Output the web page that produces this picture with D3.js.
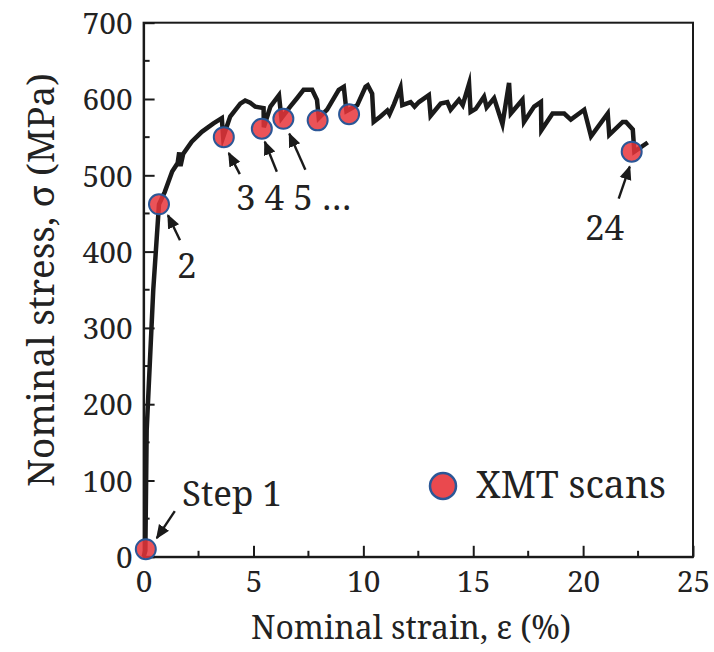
<!DOCTYPE html>
<html>
<head>
<meta charset="utf-8">
<script src="https://cdn.jsdelivr.net/npm/d3@7"></script>
<style>
  html, body { margin: 0; padding: 0; background: #fff; }
  svg { display: block; }
</style>
</head>
<body>
<svg id="chart" width="714" height="652"></svg>
<script>
// Tensile curve (nominal strain %, nominal stress MPa) with stress drops at each scan
const strain = [0.00, 0.08, 0.14, 0.44, 0.70, 0.96, 1.30, 1.55, 1.62, 1.68, 1.80, 2.19, 2.65, 3.18, 3.56, 3.62,
  3.94, 4.40, 4.62, 4.85, 5.08, 5.46, 5.47, 5.77, 6.16, 6.27, 6.67, 6.98, 7.28, 7.67, 7.89, 7.97,
  8.35, 8.88, 9.11, 9.23, 9.72, 10.10, 10.20, 10.40, 10.47, 10.78, 11.09, 11.19, 11.39, 11.69, 11.77,
  12.15, 12.33, 12.53, 12.98, 13.06, 13.52, 13.82, 13.97, 14.35, 14.52, 14.81, 14.88, 15.11, 15.49,
  15.61, 15.95, 16.33, 16.63, 16.71, 17.24, 17.31, 17.77, 18.08, 18.10, 18.61, 19.14, 19.44, 20.05,
  20.36, 21.12, 21.19, 21.80, 21.95, 22.26, 22.33, 22.94];
const stress = [0, 8, 166, 350, 462, 478, 505, 516, 530, 512, 528, 544, 557, 568, 575, 550,
  577, 594, 598, 595, 590, 588, 563, 590, 605, 575, 590, 601, 612, 612, 599, 575,
  586, 612, 616, 584, 592, 616, 618, 607, 570, 577, 585, 580, 593, 615, 592,
  596, 590, 596, 605, 578, 594, 596, 586, 599, 592, 620, 583, 587, 603,
  589, 601, 567, 621, 581, 599, 570, 590, 596, 559, 581, 581, 573, 586,
  551, 581, 553, 570, 570, 560, 531, 543];

// XMT scan steps
const scanStrain = [0.10, 0.70, 3.65, 5.38, 6.36, 7.92, 9.35, 22.21];
const scanStress = [10, 462, 550, 561, 574, 572, 580, 531];

const xTicks = [0, 5, 10, 15, 20, 25];
const yTicks = [0, 100, 200, 300, 400, 500, 600, 700];
const xMinorTicks = [2.5, 7.5, 12.5, 17.5, 22.5];
const yMinorTicks = [50, 150, 250, 350, 450, 550, 650];

const xTitle = "Nominal strain, \u03b5 (%)";
const yTitle = "Nominal stress, \u03c3 (MPa)";
const legendLabel = "XMT scans";

// Arrow callouts: which scan they point at (offsets in px from the marker)
const callouts = [
  { scan: 0, tip: [11, -11], tail: [29, -38] },
  { scan: 1, tip: [9, 11], tail: [21, 36] },
  { scan: 2, tip: [5, 16], tail: [16, 37] },
  { scan: 3, tip: [3, 13], tail: [15, 43] },
  { scan: 4, tip: [6, 15], tail: [22, 51] },
  { scan: 7, tip: [-2, 15], tail: [-13, 47] }
];
// Step labels: text, left x, baseline y
const calloutTexts = [
  { text: "Step 1", x: 182, y: 506 },
  { text: "2", x: 177, y: 278 },
  { text: "3 4 5 \u2026", x: 236, y: 210 },
  { text: "24", x: 585, y: 240 }
];

const FONT = "'Noto Serif', 'DejaVu Serif', serif";
const INK = "#1a1a1a";

// Sets the font size of a text selection so its rendered width equals w
function fitWidth(sel, w) {
  sel.each(function () {
    const t = d3.select(this).attr("font-size", 40);
    const len = this.getComputedTextLength();
    if (len > 0) t.attr("font-size", (40 * w / len).toFixed(2));
  });
  return sel;
}

const svg = d3.select("#chart").attr("font-family", FONT);
const m = { left: 143.6, right: 693, top: 22.7, bottom: 556.8 };

const x = d3.scaleLinear().domain([0, 25]).range([m.left, m.right]);
const y = d3.scaleLinear().domain([0, 700]).range([m.bottom, m.top]);

// Frame
svg.append("rect")
  .attr("x", m.left).attr("y", m.top)
  .attr("width", m.right - m.left).attr("height", m.bottom - m.top)
  .attr("fill", "none").attr("stroke", INK).attr("stroke-width", 2);

// Axes with inward ticks
const xAxis = d3.axisBottom(x).tickValues(xTicks).tickSizeInner(-11).tickSizeOuter(0).tickPadding(12)
  .tickFormat(d3.format("d"));
const yAxis = d3.axisLeft(y).tickValues(yTicks).tickSizeInner(-11).tickSizeOuter(0).tickPadding(11)
  .tickFormat(d3.format("d"));

const gx = svg.append("g").attr("transform", `translate(0,${m.bottom})`).call(xAxis);
const gy = svg.append("g").attr("transform", `translate(${m.left},0)`).call(yAxis);
[gx, gy].forEach(g => {
  g.attr("font-family", FONT);
  g.select(".domain").attr("stroke", INK).attr("stroke-width", 2);
  g.selectAll(".tick line").attr("stroke", INK).attr("stroke-width", 2);
  g.selectAll(".tick text").attr("fill", "#222");
});
// tick label size taken from the "700" label width
const probe = gy.selectAll(".tick text").filter(d => d === 700);
fitWidth(probe, 50);
const tickSize = probe.attr("font-size");
gx.selectAll(".tick text").attr("font-size", tickSize).attr("dy", null).attr("y", 35.5);
gy.selectAll(".tick text").attr("font-size", tickSize).attr("dy", "0.36em");

// Minor ticks
svg.append("g").selectAll("line").data(xMinorTicks).join("line")
  .attr("x1", d => x(d)).attr("x2", d => x(d))
  .attr("y1", m.bottom).attr("y2", m.bottom - 6)
  .attr("stroke", INK).attr("stroke-width", 2);
svg.append("g").selectAll("line").data(yMinorTicks).join("line")
  .attr("x1", m.left).attr("x2", m.left + 6)
  .attr("y1", d => y(d)).attr("y2", d => y(d))
  .attr("stroke", INK).attr("stroke-width", 2);

// Axis titles
svg.append("text")
  .attr("x", 411).attr("y", 639)
  .attr("text-anchor", "middle").attr("fill", "#222")
  .text(xTitle).call(fitWidth, 320);
svg.append("text")
  .attr("transform", "translate(54,280) rotate(-90)")
  .attr("text-anchor", "middle").attr("fill", "#222")
  .text(yTitle).call(fitWidth, 414);

// Stress-strain curve
const pts = strain.map((s, i) => [s, stress[i]]);
svg.append("path")
  .datum(pts)
  .attr("fill", "none")
  .attr("stroke", INK)
  .attr("stroke-width", 4.5)
  .attr("stroke-linejoin", "miter")
  .attr("stroke-miterlimit", 6)
  .attr("d", d3.line().x(d => x(d[0])).y(d => y(d[1])));

// Scan markers
const scans = scanStrain.map((s, i) => [s, scanStress[i]]);
svg.append("g").selectAll("circle").data(scans).join("circle")
  .attr("cx", d => x(d[0])).attr("cy", d => y(d[1])).attr("r", 10)
  .attr("fill", "#e8353b").attr("fill-opacity", 0.85)
  .attr("stroke", "#2b5797").attr("stroke-width", 2);

// Arrows
const defs = svg.append("defs");
defs.append("marker")
  .attr("id", "head").attr("viewBox", "0 0 10 10")
  .attr("refX", 9).attr("refY", 5)
  .attr("markerWidth", 6).attr("markerHeight", 6)
  .attr("markerUnits", "strokeWidth")
  .attr("orient", "auto")
  .append("path").attr("d", "M0,0.8 L10,5 L0,9.2 Z").attr("fill", INK);

svg.append("g").selectAll("line").data(callouts).join("line")
  .attr("x1", d => x(scans[d.scan][0]) + d.tail[0])
  .attr("y1", d => y(scans[d.scan][1]) + d.tail[1])
  .attr("x2", d => x(scans[d.scan][0]) + d.tip[0])
  .attr("y2", d => y(scans[d.scan][1]) + d.tip[1])
  .attr("stroke", INK).attr("stroke-width", 2.4)
  .attr("marker-end", "url(#head)");

// Step labels share one size, set by the width of "Step 1"
const labels = svg.append("g").selectAll("text").data(calloutTexts).join("text")
  .attr("x", d => d.x).attr("y", d => d.y)
  .attr("fill", "#222")
  .text(d => d.text);
const stepProbe = labels.filter(d => d.text === "Step 1");
fitWidth(stepProbe, 100);
labels.attr("font-size", stepProbe.attr("font-size"));

// Legend
svg.append("circle").attr("cx", 443).attr("cy", 486).attr("r", 13)
  .attr("fill", "#e8353b").attr("fill-opacity", 0.9)
  .attr("stroke", "#2b5797").attr("stroke-width", 2.5);
svg.append("text").attr("x", 476).attr("y", 498)
  .attr("fill", "#222").text(legendLabel).call(fitWidth, 190);
</script>
</body>
</html>
